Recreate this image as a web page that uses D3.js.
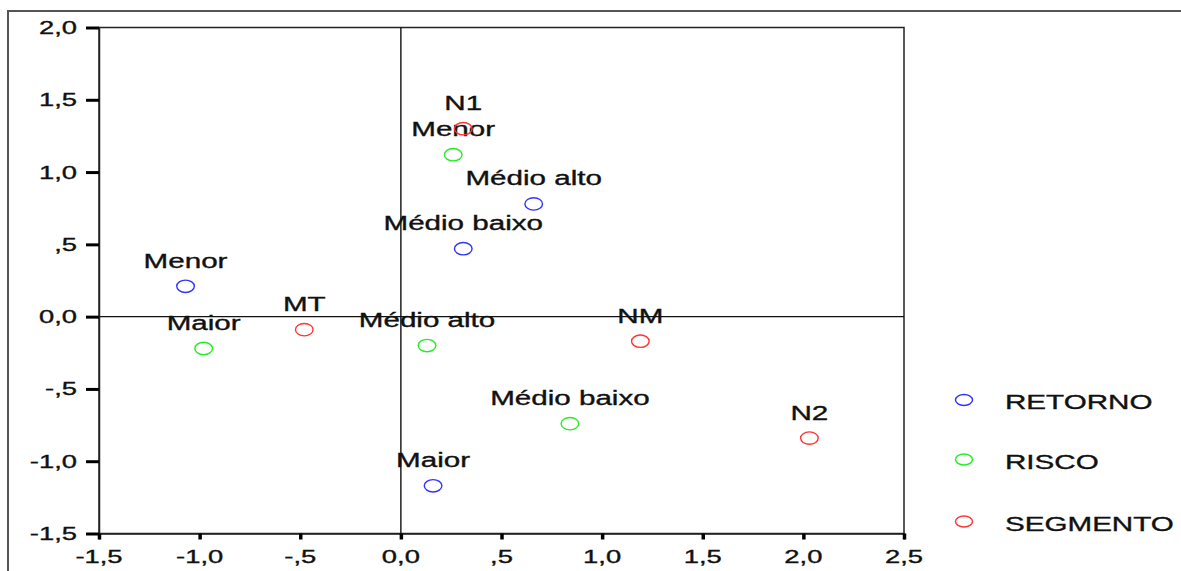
<!DOCTYPE html>
<html>
<head>
<meta charset="utf-8">
<script src="https://cdn.jsdelivr.net/npm/d3@7"></script>
<style>
  body { margin: 0; background: #fff; }
  text { font-family: "Liberation Sans", Arial, sans-serif; fill: #111; stroke: #111; stroke-width: 0.35px; }
</style>
</head>
<body>
<div id="chart"></div>
<script>
// data
const series = ["RETORNO", "RISCO", "SEGMENTO"];
const seriesColors = ["#3333ff", "#22ee22", "#ff3333"];

const retorno = [
    {label: "Menor", x: -1.07, y: 0.21},
    {label: "Médio alto", x: 0.66, y: 0.78},
    {label: "Médio baixo", x: 0.31, y: 0.47},
    {label: "Maior", x: 0.16, y: -1.17}
];
const risco = [
    {label: "Menor", x: 0.26, y: 1.12},
    {label: "Maior", x: -0.98, y: -0.22},
    {label: "Médio alto", x: 0.13, y: -0.20},
    {label: "Médio baixo", x: 0.84, y: -0.74}
];
const segmento = [
    {label: "N1", x: 0.31, y: 1.30},
    {label: "MT", x: -0.48, y: -0.09},
    {label: "NM", x: 1.19, y: -0.17},
    {label: "N2", x: 2.03, y: -0.84}
];

const xTicks = [-1.5, -1.0, -0.5, 0.0, 0.5, 1.0, 1.5, 2.0, 2.5];
const yTicks = [-1.5, -1.0, -0.5, 0.0, 0.5, 1.0, 1.5, 2.0];

// text in the picture is stretched sideways
const sx = 1.48;

const W = 1181, H = 571;
const plot = {left: 99, right: 904, top: 27.5, bottom: 533.5};

const svg = d3.select("#chart").append("svg")
    .attr("width", W)
    .attr("height", H);

// outer frame (left + top only)
svg.append("path")
    .attr("d", `M8,${H} L8,11 L${W},11`)
    .attr("fill", "none")
    .attr("stroke", "#555")
    .attr("stroke-width", 2);

const x = d3.scaleLinear().domain([-1.5, 2.5]).range([plot.left, plot.right]);
const y = d3.scaleLinear().domain([-1.5, 2.0]).range([plot.bottom, plot.top]);

// spss style numbers: comma decimal, no leading zero
const fmt = function (v) {
    if (v === 0) return "0,0";
    let s = Math.abs(v).toFixed(1).replace(".", ",");
    if (Math.abs(v) < 1) s = s.slice(1);
    return (v < 0 ? "-" : "") + s;
};

// plot box
svg.append("rect")
    .attr("x", plot.left)
    .attr("y", plot.top)
    .attr("width", plot.right - plot.left)
    .attr("height", plot.bottom - plot.top)
    .attr("fill", "none")
    .attr("stroke", "#222")
    .attr("stroke-width", 1.5);

// reference lines through zero
svg.append("line")
    .attr("x1", x(0)).attr("x2", x(0))
    .attr("y1", plot.top).attr("y2", plot.bottom)
    .attr("stroke", "#111").attr("stroke-width", 1.4);
svg.append("line")
    .attr("x1", plot.left).attr("x2", plot.right)
    .attr("y1", y(0)).attr("y2", y(0))
    .attr("stroke", "#111").attr("stroke-width", 1.4);

// Y axis
const yAxis = svg.append("g")
    .attr("transform", `translate(${plot.left},0)`)
    .call(d3.axisLeft(y).tickValues(yTicks).tickSize(13).tickFormat(""));
yAxis.select(".domain").attr("stroke", "#222").attr("stroke-width", 1.5);
yAxis.selectAll(".tick line").attr("stroke", "#000").attr("stroke-width", 3);

svg.append("g").selectAll("text")
    .data(yTicks)
    .join("text")
    .attr("transform", d => `translate(77,${y(d) + 6.5}) scale(${sx},1)`)
    .attr("text-anchor", "end")
    .style("font-size", "18.5px")
    .text(fmt);

// X axis
const xAxis = svg.append("g")
    .attr("transform", `translate(0,${plot.bottom})`)
    .call(d3.axisBottom(x).tickValues(xTicks).tickSize(6).tickFormat(""));
xAxis.select(".domain").attr("stroke", "#222").attr("stroke-width", 1.5);
xAxis.selectAll(".tick line").attr("stroke", "#000").attr("stroke-width", 3.5);

svg.append("g").selectAll("text")
    .data(xTicks)
    .join("text")
    .attr("transform", d => `translate(${x(d)},563) scale(${sx},1)`)
    .attr("text-anchor", "middle")
    .style("font-size", "18.5px")
    .text(fmt);

// points and their labels
const groups = [retorno, risco, segmento];
groups.forEach(function (pts, i) {
    const g = svg.append("g").attr("class", "series_" + series[i]);
    g.selectAll("ellipse")
        .data(pts)
        .join("ellipse")
        .attr("cx", d => x(d.x))
        .attr("cy", d => y(d.y))
        .attr("rx", 8.8)
        .attr("ry", 6.2)
        .attr("fill", "none")
        .attr("stroke", seriesColors[i])
        .attr("stroke-width", 1.4);
    g.selectAll("text")
        .data(pts)
        .join("text")
        .attr("transform", d => `translate(${x(d.x)},${y(d.y) - 18.5}) scale(${sx},1)`)
        .attr("text-anchor", "middle")
        .style("font-size", "20px")
        .text(d => d.label);
});

// legend
const legendY = [400, 459.5, 521.5];
const legend = svg.selectAll(".legend")
    .data(series)
    .join("g")
    .attr("class", "legend")
    .attr("transform", (d, i) => `translate(964,${legendY[i]})`);

legend.append("ellipse")
    .attr("rx", 8.5)
    .attr("ry", 5.5)
    .attr("fill", "none")
    .attr("stroke", (d, i) => seriesColors[i])
    .attr("stroke-width", 1.4);

legend.append("text")
    .attr("transform", `translate(41,9) scale(${sx},1)`)
    .style("font-size", "20px")
    .text(d => d);
</script>
</body>
</html>
